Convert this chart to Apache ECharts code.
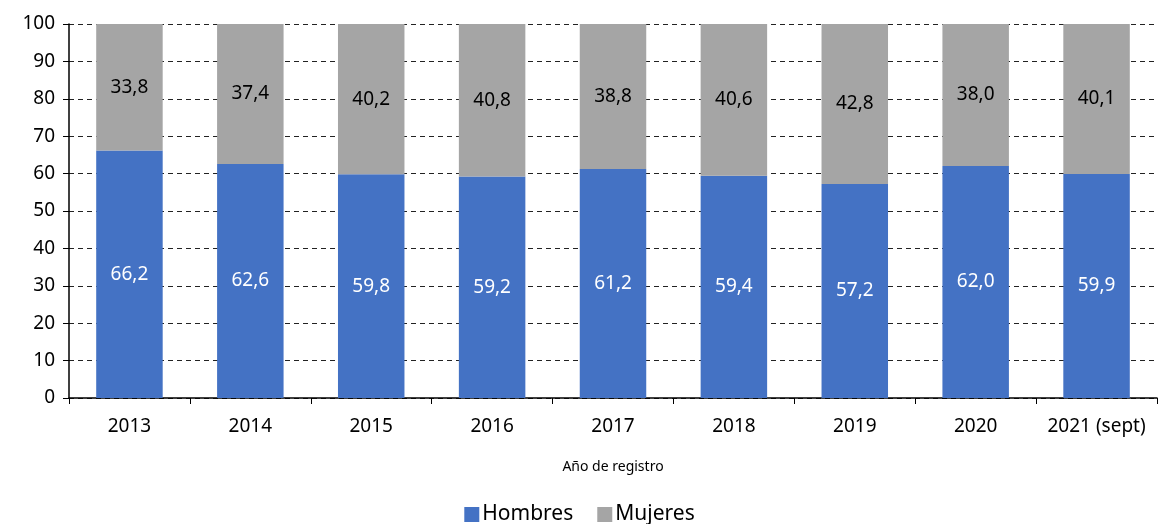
<!DOCTYPE html>
<html>
<head>
<meta charset="utf-8">
<script src="https://cdn.jsdelivr.net/npm/echarts@6/dist/echarts.min.js"></script>
<style>
    html, body { margin: 0; padding: 0; background: #fff; }
    #chart { width: 1159px; height: 524px; }
</style>
</head>
<body>
<div id="chart"></div>
<script>
    const years = ['2013', '2014', '2015', '2016', '2017', '2018', '2019', '2020', '2021 (sept)'];
    const hombres = [66.2, 62.6, 59.8, 59.2, 61.2, 59.4, 57.2, 62.0, 59.9];
    const mujeres = [33.8, 37.4, 40.2, 40.8, 38.8, 40.6, 42.8, 38.0, 40.1];

    const font = '"Noto Sans", sans-serif';
    // formato con coma decimal
    const fmt = (p) => p.value.toFixed(1).replace('.', ',');

    const myChart = echarts.init(document.getElementById('chart'));
    myChart.setOption({
        animation: false,
        textStyle: { fontFamily: font },
        grid: { left: 69, right: 2, top: 24, bottom: 126 },
        legend: {
            bottom: -6,
            left: 'center',
            itemWidth: 15,
            itemHeight: 15,
            itemGap: 24,
            icon: 'rect',
            textStyle: { fontSize: 21, color: '#000', fontFamily: font, padding: [0, 0, 0, -2] },
            data: ['Hombres', 'Mujeres']
        },
        xAxis: {
            type: 'category',
            data: years,
            name: 'Año de registro',
            nameLocation: 'middle',
            nameGap: 62,
            nameTextStyle: { fontSize: 14, color: '#000' },
            axisLine: { lineStyle: { color: '#000', width: 1.5 } },
            axisTick: { show: true, interval: 0, length: 6, lineStyle: { color: '#000' } },
            axisLabel: { interval: 0, fontSize: 19, color: '#000', margin: 19 }
        },
        yAxis: {
            type: 'value',
            min: 0,
            max: 100,
            interval: 10,
            axisLine: { show: true, lineStyle: { color: '#000', width: 1.5 } },
            axisTick: { show: true, length: 6, lineStyle: { color: '#000' } },
            axisLabel: { fontSize: 19, color: '#000', margin: 14 },
            splitLine: { lineStyle: { color: '#222', type: [5, 4], width: 1 } }
        },
        series: [{
            name: 'Hombres',
            type: 'bar',
            stack: 'total',
            data: hombres,
            barWidth: '55%',
            itemStyle: { color: '#4472C4' },
            label: { show: true, position: 'inside', color: '#fff', fontSize: 19, formatter: fmt }
        }, {
            name: 'Mujeres',
            type: 'bar',
            stack: 'total',
            data: mujeres,
            barWidth: '55%',
            itemStyle: { color: '#A5A5A5' },
            label: { show: true, position: 'inside', color: '#000', fontSize: 19, formatter: fmt }
        }]
    });
</script>
</body>
</html>
